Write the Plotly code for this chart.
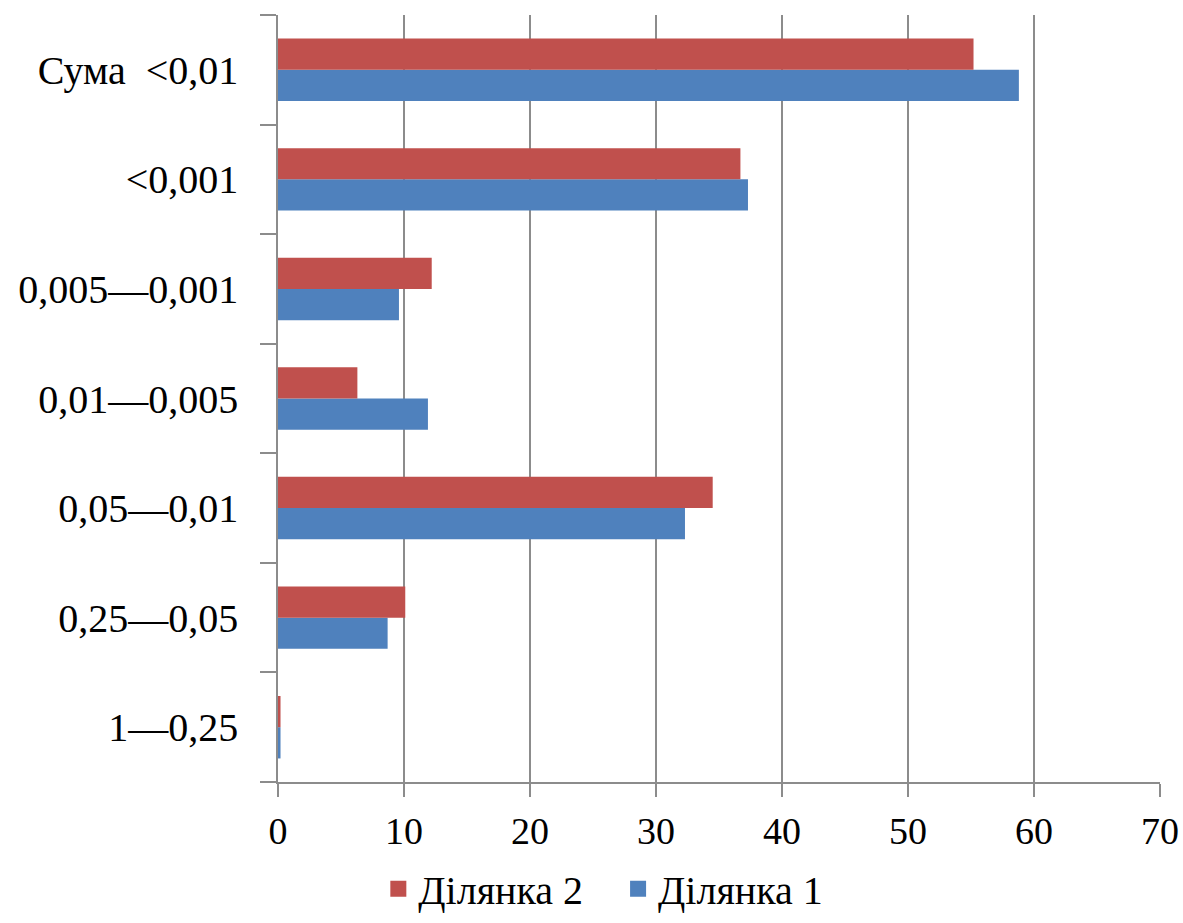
import plotly.graph_objects as go

categories = ["1—0,25", "0,25—0,05", "0,05—0,01", "0,01—0,005", "0,005—0,001", "<0,001", "Сума\u00a0 <0,01"]
dilyanka1 = [0.2, 8.7, 32.3, 11.9, 9.6, 37.3, 58.8]
dilyanka2 = [0.2, 10.1, 34.5, 6.3, 12.2, 36.7, 55.2]
x_ticks = [0, 10, 20, 30, 40, 50, 60, 70]

font = dict(family="Liberation Serif", size=40, color="#000000")
grid = "#8c8c8c"

fig = go.Figure()
fig.add_trace(go.Bar(y=categories, x=dilyanka1, orientation="h", name="Ділянка 1",
                     marker=dict(color="#4F81BD", line=dict(width=0)), showlegend=False))
fig.add_trace(go.Bar(y=categories, x=dilyanka2, orientation="h", name="Ділянка 2",
                     marker=dict(color="#C0504D", line=dict(width=0)), showlegend=False))
# legend entries with larger square swatches
fig.add_trace(go.Scatter(x=[None], y=[None], mode="markers", name="Ділянка 2\u00a0\u00a0\u00a0",
                         marker=dict(symbol="square", size=22, color="#C0504D")))
fig.add_trace(go.Scatter(x=[None], y=[None], mode="markers", name="Ділянка 1",
                         marker=dict(symbol="square", size=22, color="#4F81BD")))

fig.update_layout(
    width=1183, height=923,
    margin=dict(l=278, r=23, t=15, b=141, autoexpand=False),
    paper_bgcolor="white", plot_bgcolor="white",
    barmode="group", bargap=0.43, bargroupgap=0,
    font=font,
    showlegend=True,
    legend=dict(orientation="h", x=0.51, xanchor="center", xref="container",
                yref="container", y=0.037, yanchor="middle", bgcolor="rgba(0,0,0,0)",
                font=font, itemwidth=30, tracegroupgap=0),
    xaxis=dict(range=[0, 70], tickvals=x_ticks, showgrid=True, gridcolor=grid, gridwidth=1.5,
               showline=True, linecolor=grid, linewidth=1.5, ticks="outside", ticklen=13,
               tickcolor=grid, tickwidth=1.5, zeroline=False, ticklabelstandoff=2,
               tickfont=dict(family="Liberation Serif", size=38, color="#000000")),
    yaxis=dict(type="category", categoryorder="array", categoryarray=categories,
               showline=True, linecolor=grid, linewidth=1.5, ticks="outside", ticklen=16,
               tickcolor=grid, tickwidth=1.5, tickson="boundaries", showgrid=False,
               ticklabelstandoff=30),
)

fig.write_html("out.html")
